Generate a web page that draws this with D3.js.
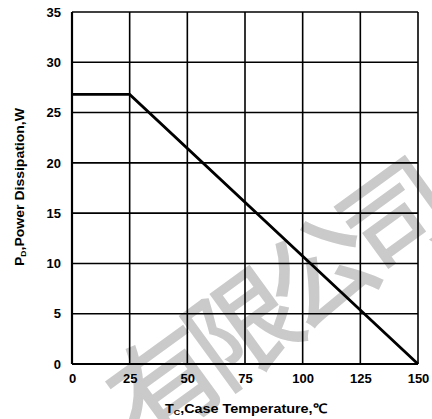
<!DOCTYPE html>
<html>
<head>
<meta charset="utf-8">
<title>Power Dissipation vs Case Temperature</title>
<style>
  body { margin: 0; background: #fff; }
  .tick text { font-family: "Liberation Sans", Arial, sans-serif; font-weight: bold; font-size: 13px; }
  .title { font-family: "Liberation Sans", Arial, sans-serif; font-weight: bold; font-size: 13px; }
</style>
</head>
<body>
<svg width="432" height="419"></svg>
<script src="https://d3js.org/d3.v7.min.js"></script>
<script>
// data
var tempPoints = [0, 25, 150];
var powerPoints = [26.8, 26.8, 0];
var xTicks = [0, 25, 50, 75, 100, 125, 150];
var yTicks = [0, 5, 10, 15, 20, 25, 30, 35];

var svg = d3.select("svg");
var margin = {left: 72, top: 12, right: 14, bottom: 55};
var w = 432 - margin.left - margin.right,
    h = 419 - margin.top - margin.bottom;

var x = d3.scaleLinear().domain([0, 150]).range([margin.left, margin.left + w]);
var y = d3.scaleLinear().domain([0, 35]).range([margin.top + h, margin.top]);

// watermark
svg.append("text")
    .attr("transform", "translate(272,298) rotate(-36)")
    .attr("text-anchor", "middle")
    .attr("dominant-baseline", "central")
    .style("font-family", "'Noto Sans CJK SC', sans-serif")
    .style("font-weight", "normal")
    .style("font-size", "108px")
    .style("letter-spacing", "-13px")
    .style("fill", "#cacaca")
    .style("stroke", "#cacaca")
    .style("stroke-width", 2)
    .text("有限公司");

// grid
svg.append("g").selectAll("line")
    .data(xTicks)
    .enter().append("line")
    .attr("x1", d => x(d)).attr("x2", d => x(d))
    .attr("y1", y(0)).attr("y2", y(35))
    .attr("stroke", "#000").attr("stroke-width", 1.6);
svg.append("g").selectAll("line")
    .data(yTicks)
    .enter().append("line")
    .attr("x1", x(0)).attr("x2", x(150))
    .attr("y1", d => y(d)).attr("y2", d => y(d))
    .attr("stroke", "#000").attr("stroke-width", 1.6);

// axes (labels only)
svg.append("g")
    .attr("transform", "translate(0," + y(0) + ")")
    .call(d3.axisBottom(x).tickValues(xTicks).tickSize(0).tickPadding(10));
svg.append("g")
    .attr("transform", "translate(" + x(0) + ",0)")
    .call(d3.axisLeft(y).tickValues(yTicks).tickSize(0).tickPadding(11));
svg.selectAll(".domain").remove();
svg.selectAll(".tick text").attr("fill", "#000");

// axis lines a bit heavier
svg.append("line")
    .attr("x1", x(0)).attr("x2", x(150))
    .attr("y1", y(0)).attr("y2", y(0))
    .attr("stroke", "#000").attr("stroke-width", 2.2);
svg.append("line")
    .attr("x1", x(0)).attr("x2", x(0))
    .attr("y1", y(0)).attr("y2", y(35))
    .attr("stroke", "#000").attr("stroke-width", 2.2);

// derating curve
var line = d3.line()
    .x((d, i) => x(tempPoints[i]))
    .y(d => y(d));
svg.append("path")
    .datum(powerPoints)
    .attr("d", line)
    .attr("fill", "none")
    .attr("stroke", "#000")
    .attr("stroke-width", 2.8);

// axis titles
var xt = svg.append("text")
    .attr("class", "title")
    .attr("x", 165).attr("y", 413)
    .attr("textLength", 162)
    .attr("lengthAdjust", "spacingAndGlyphs");
xt.append("tspan").text("T");
xt.append("tspan").attr("font-size", "8px").attr("dy", 2).text("C");
xt.append("tspan").attr("dy", -2).text(",Case Temperature,℃");

var yt = svg.append("text")
    .attr("class", "title")
    .attr("transform", "translate(24,266) rotate(-90)")
    .attr("textLength", 158)
    .attr("lengthAdjust", "spacingAndGlyphs");
yt.append("tspan").text("P");
yt.append("tspan").attr("font-size", "8px").attr("dy", 2).text("D");
yt.append("tspan").attr("dy", -2).text(",Power Dissipation,W");
</script>
</body>
</html>
